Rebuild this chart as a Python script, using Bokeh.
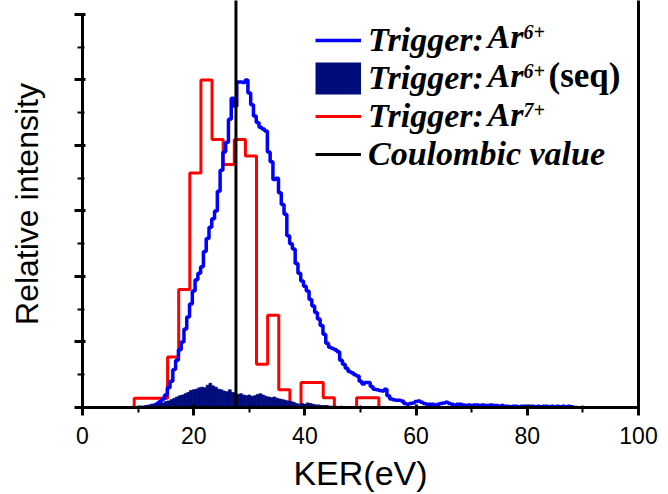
import numpy as np
from bokeh.plotting import figure
from bokeh.models import Range1d, FixedTicker, LinearAxis, Legend, LegendItem, Label
from bokeh.embed import file_html
from bokeh.resources import INLINE

# ---------------- data ----------------
x_ticks = [0, 20, 40, 60, 80, 100]
x_minor_ticks = [10, 30, 50, 70, 90]
y_ticks = [0, 1, 2, 3, 4, 5, 6]
y_minor_ticks = [0.5, 1.5, 2.5, 3.5, 4.5, 5.5]

coulombic_value = 27.6  # eV

# Trigger: Ar6+ (blue step histogram), bin centres start at 10.5 eV, 0.5 eV bins
ar6_first_center = 10.5
ar6_bin = 0.5
ar6_values = [
    0.00, 0.00, 0.01, 0.02, 0.03, 0.04, 0.06, 0.09, 0.13, 0.19,   # 10.5-15.0
    0.30, 0.40, 0.58, 0.72, 0.88, 1.00, 1.20, 1.38, 1.58, 1.78,   # 15.5-20.0
    1.95, 2.05, 2.15, 2.38, 2.58, 2.75, 2.88, 3.00, 3.30, 3.62,   # 20.5-25.0
    3.90, 4.05, 4.40, 4.72, 4.60, 4.97, 4.97, 4.96, 5.00, 4.80,   # 25.5-30.0
    4.62, 4.45, 4.35, 4.28, 4.25, 4.22, 3.90, 3.75, 3.48, 3.50,   # 30.5-35.0
    3.28, 3.10, 2.95, 2.62, 2.50, 2.42, 2.20, 2.05, 1.93, 1.85,   # 35.5-40.0
    1.78, 1.65, 1.55, 1.45, 1.35, 1.25, 1.12, 0.98, 0.92, 0.90,   # 40.5-45.0
    0.88, 0.85, 0.72, 0.66, 0.60, 0.55, 0.53, 0.50, 0.48, 0.40,   # 45.5-50.0
    0.36, 0.38, 0.38, 0.32, 0.28, 0.27, 0.26, 0.25, 0.28, 0.18,   # 50.5-55.0
    0.13, 0.12, 0.11, 0.11, 0.10, 0.06, 0.05, 0.06, 0.07, 0.09,   # 55.5-60.0
    0.10, 0.08, 0.06, 0.05, 0.05, 0.05, 0.04, 0.05, 0.06, 0.07,   # 60.5-65.0
    0.08, 0.06, 0.05, 0.04, 0.05, 0.05, 0.04, 0.03, 0.04, 0.03,   # 65.5-70.0
    0.04, 0.04, 0.03, 0.04, 0.03, 0.03, 0.04, 0.03, 0.03, 0.02,   # 70.5-75.0
    0.03, 0.02, 0.02, 0.01, 0.02, 0.02, 0.01, 0.02, 0.02, 0.01,   # 75.5-80.0
    0.02, 0.02, 0.01, 0.02, 0.01, 0.02, 0.02, 0.01, 0.02, 0.01,   # 80.5-85.0
    0.02, 0.01, 0.02, 0.01, 0.02, 0.01, 0.00,                     # 85.5-88.5
]

# Trigger: Ar6+ (seq) (navy filled histogram), 0.5 eV bins from 9.5 eV
seq_first_center = 9.5
seq_bin = 0.5
seq_values = [
    0.01, 0.01, 0.02, 0.02, 0.03, 0.03, 0.04, 0.04, 0.05, 0.06,   # 9.5-14.0
    0.07, 0.09, 0.10, 0.12, 0.14, 0.16, 0.18, 0.19, 0.21, 0.23,   # 14.5-19.0
    0.26, 0.27, 0.28, 0.30, 0.31, 0.30, 0.34, 0.37, 0.33, 0.31,   # 19.5-24.0
    0.28, 0.27, 0.25, 0.24, 0.27, 0.23, 0.22, 0.20, 0.21, 0.19,   # 24.5-29.0
    0.18, 0.19, 0.17, 0.18, 0.20, 0.21, 0.19, 0.17, 0.16, 0.15,   # 29.5-34.0
    0.16, 0.14, 0.13, 0.12, 0.11, 0.10, 0.09, 0.08, 0.06, 0.05,   # 34.5-39.0
    0.06, 0.05, 0.07, 0.06, 0.05, 0.04, 0.04, 0.03, 0.03, 0.03,   # 39.5-44.0
    0.02, 0.02, 0.02, 0.01, 0.02, 0.01, 0.01, 0.01, 0.01, 0.01,   # 44.5-49.0
    0.01, 0.00,                                                   # 49.5-50.0
]

# Trigger: Ar7+ (red step histogram), 2 eV bins starting at 9.3 eV
ar7_first_edge = 9.3
ar7_bin = 2.0
ar7_values = [
    0.14, 0.14, 0.14, 0.77, 1.80, 3.58, 5.00, 4.09, 3.71, 4.09,
    3.84, 0.66, 1.41, 0.27, 0.00, 0.38, 0.38, 0.15, 0.00, 0.00,
    0.15, 0.15,
]

# ---------------- derived positions ----------------
ar6_centers = ar6_first_center + ar6_bin * np.arange(len(ar6_values))
ar6_x = np.concatenate([[ar6_centers[0] - ar6_bin], ar6_centers, [ar6_centers[-1] + ar6_bin]])
ar6_y = np.concatenate([[0.0], ar6_values, [0.0]])

seq_centers = seq_first_center + seq_bin * np.arange(len(seq_values))
seq_vals = np.array(seq_values)

ar7_centers = ar7_first_edge + ar7_bin * (np.arange(len(ar7_values)) + 0.5)
ar7_x = np.concatenate([[ar7_centers[0] - ar7_bin], ar7_centers, [ar7_centers[-1] + ar7_bin]])
ar7_y = np.concatenate([[0.0], ar7_values, [0.0]])

# ---------------- figure ----------------
p = figure(width=668, height=494, output_backend="svg", toolbar_location=None,
           x_range=Range1d(0, 100), y_range=Range1d(0, 6.213),
           min_border_left=82, min_border_right=30, min_border_top=0, min_border_bottom=86,
           background_fill_color="white", border_fill_color="white")
p.outline_line_color = None
p.xgrid.visible = False
p.ygrid.visible = False

AX_W = 3
for ax in (p.xaxis[0], p.yaxis[0]):
    ax.axis_line_width = AX_W
    ax.axis_line_color = "black"
    ax.major_tick_line_width = AX_W
    ax.minor_tick_line_width = 2
    ax.major_tick_out = 8
    ax.major_tick_in = 3
    ax.minor_tick_out = 5
    ax.minor_tick_in = 2
    ax.axis_label_text_font = "Liberation Sans"
    ax.axis_label_text_font_style = "normal"
    ax.axis_label_text_color = "black"
    ax.major_label_text_font = "Liberation Sans"
    ax.major_label_text_color = "black"

p.xaxis[0].ticker = FixedTicker(ticks=x_ticks, minor_ticks=x_minor_ticks)
p.xaxis[0].major_label_text_font_size = "23px"
p.xaxis[0].major_label_standoff = 11
p.xaxis[0].axis_label = "KER(eV)"
p.xaxis[0].axis_label_text_font_size = "34px"
p.xaxis[0].axis_label_standoff = 7

p.yaxis[0].ticker = FixedTicker(ticks=y_ticks, minor_ticks=y_minor_ticks)
p.yaxis[0].bounds = (0, 6)
p.yaxis[0].major_label_overrides = {t: "" for t in y_ticks}
p.yaxis[0].major_label_text_font_size = "1px"
p.yaxis[0].major_label_standoff = 0
p.yaxis[0].axis_label = "Relative intensity"
p.yaxis[0].axis_label_text_font_size = "32px"
p.yaxis[0].axis_label_standoff = 30

right_axis = LinearAxis(ticker=FixedTicker(ticks=[]), axis_line_width=AX_W,
                        axis_line_color="black", major_label_text_font_size="1px",
                        major_tick_line_color=None, minor_tick_line_color=None)
p.add_layout(right_axis, "right")

# ---------------- glyphs ----------------
NAVY = "#000c7c"
red_r = p.step(x=ar7_x, y=ar7_y, mode="center", line_color="#FF0000", line_width=3)
blue_r = p.step(x=ar6_x, y=ar6_y, mode="center", line_color="#0000FF", line_width=3.5)
navy_r = p.quad(left=seq_centers - seq_bin / 2, right=seq_centers + seq_bin / 2,
                top=seq_vals, bottom=0, fill_color=NAVY, line_color=NAVY, line_width=0.8)
coul_r = p.ray(x=[coulombic_value], y=[0], length=0, angle=90, angle_units="deg",
               line_color="black", line_width=3)
# legend swatch for the filled histogram: a thick line with no visible points
navy_swatch = p.line(x=[np.nan], y=[np.nan], line_color=NAVY, line_width=32)

# ---------------- legend ----------------
LEG_FONT = "Liberation Serif"
legend = Legend(items=[
    LegendItem(label="Trigger:", renderers=[blue_r]),
    LegendItem(label="Trigger:", renderers=[navy_swatch]),
    LegendItem(label="Trigger:", renderers=[red_r]),
    LegendItem(label="Coulombic value", renderers=[coul_r]),
], location=(233, 234), orientation="vertical",
    glyph_width=46, glyph_height=34, label_height=34, spacing=0,
    padding=0, margin=0, label_standoff=7,
    border_line_color=None, background_fill_alpha=0,
    label_text_font=LEG_FONT, label_text_font_style="bold italic",
    label_text_font_size="34px", label_text_color="black")
p.add_layout(legend, "center")

row_y = [371, 331.8, 292.6]
main_style = dict(x_units="screen", y_units="screen", text_font=LEG_FONT,
                  text_font_style="bold italic", text_font_size="34px",
                  text_color="black", text_baseline="middle")
sup_style = dict(x_units="screen", y_units="screen", text_font=LEG_FONT,
                 text_font_style="bold italic", text_font_size="20px",
                 text_color="black", text_baseline="middle")
for ry, sup in zip(row_y, ["6+", "6+", "7+"]):
    p.add_layout(Label(x=405, y=ry, text="Ar", **main_style))
    p.add_layout(Label(x=441, y=ry + 5, text=sup, **sup_style))
p.add_layout(Label(x=466, y=row_y[1], text="(seq)", x_units="screen", y_units="screen",
                   text_font=LEG_FONT, text_font_style="bold", text_font_size="35px",
                   text_color="black", text_baseline="middle"))

open("out.html", "w").write(file_html(p, INLINE))
